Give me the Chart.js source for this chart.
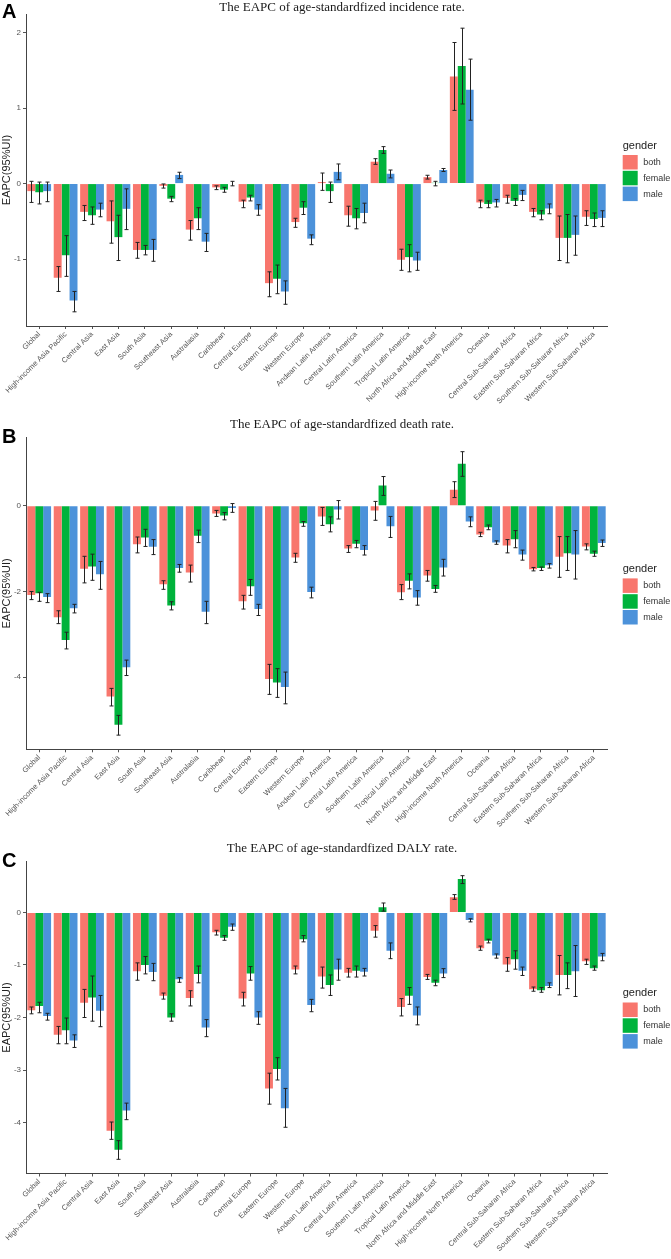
<!DOCTYPE html>
<html><head><meta charset="utf-8">
<script src="https://cdn.jsdelivr.net/npm/chart.js@4.4.1/dist/chart.umd.min.js"></script>
<style>
html,body{margin:0;padding:0;background:#fff;}
body{width:671px;height:1259px;position:relative;overflow:hidden;}
canvas{position:absolute;left:0;}
</style></head><body>
<canvas id="cA" width="671" height="415" style="top:0px;width:671px;height:415px"></canvas>
<canvas id="cB" width="671" height="420" style="top:415px;width:671px;height:420px"></canvas>
<canvas id="cC" width="671" height="424" style="top:835px;width:671px;height:424px"></canvas>
<script>
const categories = ["Global","High-income Asia Pacific","Central Asia","East Asia","South Asia","Southeast Asia","Australasia","Caribbean","Central Europe","Eastern Europe","Western Europe","Andean Latin America","Central Latin America","Southern Latin America","Tropical Latin America","North Africa and Middle East","High-income North America","Oceania","Central Sub-Saharan Africa","Eastern Sub-Saharan Africa","Southern Sub-Saharan Africa","Western Sub-Saharan Africa"];
const genders = ["both","female","male"];
const genderColors = ["#F8766D","#00B33C","#4C92DA"];

// Panel A: incidence
const incBoth   = [-0.10,-1.25,-0.375,-0.50,-0.88,-0.03,-0.61,-0.05,-0.24,-1.32,-0.51,0.02,-0.42,0.29,-1.01,0.085,1.42,-0.25,-0.19,-0.375,-0.72,-0.44];
const incBothHi = [0.03,-1.10,-0.29,-0.23,-0.78,-0.005,-0.49,-0.03,-0.22,-1.17,-0.46,0.14,-0.30,0.33,-0.87,0.11,1.87,-0.22,-0.155,-0.33,-0.43,-0.36];
const incBothLo = [-0.25,-1.43,-0.49,-0.79,-0.99,-0.06,-0.75,-0.08,-0.32,-1.50,-0.58,-0.09,-0.565,0.255,-1.15,0.06,0.97,-0.32,-0.26,-0.44,-1.02,-0.555];
const incFemale   = [-0.115,-0.95,-0.42,-0.71,-0.88,-0.20,-0.46,-0.08,-0.185,-1.26,-0.32,-0.10,-0.46,0.445,-0.975,0.01,1.56,-0.27,-0.23,-0.41,-0.72,-0.47];
const incFemaleHi = [0.02,-0.69,-0.31,-0.42,-0.82,-0.17,-0.32,-0.05,-0.155,-1.08,-0.24,0.02,-0.33,0.49,-0.81,0.03,2.06,-0.23,-0.20,-0.36,-0.41,-0.39];
const incFemaleLo = [-0.27,-1.23,-0.54,-1.02,-0.945,-0.24,-0.61,-0.115,-0.23,-1.46,-0.41,-0.25,-0.60,0.40,-1.17,-0.03,1.055,-0.32,-0.29,-0.48,-1.05,-0.57];
const incMale   = [-0.10,-1.55,-0.345,-0.335,-0.88,0.115,-0.77,0.0,-0.345,-1.43,-0.73,0.155,-0.39,0.13,-1.02,0.18,1.245,-0.25,-0.15,-0.33,-0.68,-0.455];
const incMaleHi = [0.02,-1.43,-0.26,-0.07,-0.74,0.15,-0.66,0.03,-0.28,-1.29,-0.68,0.26,-0.26,0.18,-0.91,0.20,1.65,-0.21,-0.09,-0.27,-0.43,-0.36];
const incMaleLo = [-0.24,-1.70,-0.44,-0.61,-1.03,0.066,-0.90,-0.03,-0.42,-1.60,-0.81,0.05,-0.52,0.075,-1.15,0.16,0.84,-0.31,-0.225,-0.40,-0.95,-0.57];

// Panel B: death
const deaBoth   = [-2.08,-2.60,-1.47,-4.45,-0.90,-1.83,-1.56,-0.18,-2.23,-4.04,-1.21,-0.25,-1.00,-0.11,-2.02,-1.63,0.37,-0.67,-0.93,-1.48,-1.19,-0.95];
const deaBothHi = [-2.00,-2.45,-1.18,-4.26,-0.73,-1.75,-1.385,-0.11,-2.09,-3.70,-1.11,-0.04,-0.93,0.10,-1.84,-1.51,0.56,-0.62,-0.79,-1.44,-0.72,-0.89];
const deaBothLo = [-2.19,-2.75,-1.80,-4.67,-1.10,-1.95,-1.78,-0.25,-2.41,-4.40,-1.32,-0.46,-1.09,-0.34,-2.19,-1.76,0.19,-0.72,-1.10,-1.52,-1.67,-1.03];
const deaFemale   = [-2.04,-3.13,-1.42,-5.11,-0.74,-2.33,-0.70,-0.23,-1.88,-4.12,-0.41,-0.43,-0.89,0.47,-1.75,-1.94,0.98,-0.50,-0.78,-1.455,-1.11,-1.12];
const deaFemaleHi = [-2.02,-2.95,-1.13,-4.89,-0.55,-2.24,-0.57,-0.16,-1.72,-3.80,-0.37,-0.26,-0.81,0.68,-1.59,-1.86,1.26,-0.45,-0.58,-1.43,-0.72,-1.06];
const deaFemaleLo = [-2.23,-3.34,-1.74,-5.35,-0.95,-2.43,-0.86,-0.33,-2.09,-4.47,-0.48,-0.61,-0.98,0.24,-1.94,-2.02,0.685,-0.56,-0.98,-1.51,-1.51,-1.18];
const deaMale   = [-2.13,-2.39,-1.60,-3.77,-0.96,-1.45,-2.475,-0.055,-2.41,-4.23,-2.01,-0.09,-1.035,-0.48,-2.14,-1.44,-0.37,-0.86,-1.14,-1.39,-1.14,-0.87];
const deaMaleHi = [-2.05,-2.30,-1.30,-3.60,-0.79,-1.37,-2.23,0.05,-2.30,-3.88,-1.90,0.12,-0.93,-0.25,-1.98,-1.25,-0.26,-0.82,-1.035,-1.35,-0.58,-0.80];
const deaMaleLo = [-2.26,-2.50,-1.95,-3.96,-1.14,-1.55,-2.75,-0.155,-2.56,-4.62,-2.15,-0.31,-1.15,-0.74,-2.32,-1.64,-0.49,-0.90,-1.27,-1.455,-1.71,-0.95];

// Panel C: DALY
const dalBoth   = [-1.86,-2.33,-1.72,-4.155,-1.12,-1.585,-1.63,-0.375,-1.64,-3.35,-1.085,-1.22,-1.15,-0.35,-1.80,-1.23,0.29,-0.68,-0.99,-1.46,-1.19,-0.93];
const dalBothHi = [-1.80,-2.17,-1.465,-3.99,-0.96,-1.535,-1.49,-0.34,-1.52,-3.06,-1.02,-1.04,-1.065,-0.25,-1.64,-1.18,0.34,-0.64,-0.86,-1.42,-0.82,-0.89];
const dalBothLo = [-1.93,-2.50,-2.00,-4.32,-1.29,-1.65,-1.78,-0.43,-1.78,-3.65,-1.17,-1.44,-1.23,-0.47,-1.97,-1.275,0.25,-0.72,-1.12,-1.50,-1.57,-0.99];
const dalFemale   = [-1.78,-2.245,-1.62,-4.52,-1.00,-2.00,-1.17,-0.48,-1.16,-2.98,-0.51,-1.38,-1.11,0.10,-1.585,-1.34,0.635,-0.54,-0.89,-1.48,-1.19,-1.06];
const dalFemaleHi = [-1.71,-2.01,-1.21,-4.345,-0.84,-1.93,-1.02,-0.44,-1.03,-2.765,-0.44,-1.19,-1.02,0.18,-1.43,-1.29,0.70,-0.51,-0.73,-1.43,-0.96,-1.02];
const dalFemaleLo = [-1.91,-2.50,-2.07,-4.70,-1.17,-2.07,-1.34,-0.53,-1.29,-3.19,-0.56,-1.58,-1.23,0.025,-1.75,-1.395,0.55,-0.58,-1.08,-1.52,-1.45,-1.10];
const dalMale   = [-1.97,-2.44,-1.87,-3.77,-1.135,-1.27,-2.19,-0.27,-2.00,-3.73,-1.76,-1.085,-1.13,-0.73,-1.96,-1.16,-0.145,-0.82,-1.11,-1.40,-1.12,-0.84];
const dalMaleHi = [-1.92,-2.33,-1.58,-3.63,-0.97,-1.24,-2.04,-0.22,-1.89,-3.35,-1.655,-0.89,-1.065,-0.58,-1.80,-1.07,-0.12,-0.79,-1.04,-1.34,-0.63,-0.78];
const dalMaleLo = [-2.05,-2.57,-2.175,-3.945,-1.30,-1.33,-2.365,-0.34,-2.13,-4.09,-1.89,-1.29,-1.21,-0.88,-2.14,-1.24,-0.18,-0.87,-1.20,-1.43,-1.60,-0.92];

const SANS = '"Liberation Sans", Arial, sans-serif';
const SERIF = '"Liberation Serif", "Times New Roman", serif';

const errorBars = {
  id: 'errorBars',
  afterDatasetsDraw(chart) {
    const ctx = chart.ctx, ys = chart.scales.y;
    ctx.save();
    ctx.strokeStyle = '#222'; ctx.lineWidth = 1;
    chart.data.datasets.forEach((ds, i) => {
      const meta = chart.getDatasetMeta(i);
      meta.data.forEach((bar, j) => {
        const x = Math.round(bar.x) + 0.5;
        const y1 = ys.getPixelForValue(ds.hi[j]);
        const y2 = ys.getPixelForValue(ds.lo[j]);
        ctx.beginPath();
        ctx.moveTo(x, y1); ctx.lineTo(x, y2);
        ctx.moveTo(x - 2, y1); ctx.lineTo(x + 2, y1);
        ctx.moveTo(x - 2, y2); ctx.lineTo(x + 2, y2);
        ctx.stroke();
      });
    });
    ctx.restore();
  }
};

const decor = {
  id: 'decor',
  afterDraw(chart) {
    const p = chart.options.plugins.decor;
    const ctx = chart.ctx;
    ctx.save();
    ctx.textBaseline = 'alphabetic';
    ctx.fillStyle = '#000'; ctx.textAlign = 'left';
    ctx.font = 'bold 20px ' + SANS;
    ctx.fillText(p.letter, 2, p.letterY);
    ctx.font = '13px ' + SERIF; ctx.textAlign = 'center'; ctx.fillStyle = '#1a1a1a';
    ctx.fillText(p.title, 342, p.titleY);
    const ca = chart.chartArea, mid = (ca.top + ca.bottom) / 2;
    ctx.textAlign = 'left'; ctx.fillStyle = '#222';
    ctx.font = '11px ' + SANS;
    ctx.fillText('gender', 622.7, mid - 21.5);
    chart.data.datasets.forEach((ds, i) => {
      const y = mid - 15 + i * 15.8;
      ctx.fillStyle = ds.backgroundColor;
      ctx.fillRect(622.7, y, 15, 14.5);
      ctx.fillStyle = '#333'; ctx.font = '9px ' + SANS;
      ctx.textBaseline = 'middle';
      ctx.fillText(ds.label, 643.3, y + 7.5);
      ctx.textBaseline = 'alphabetic';
    });
    ctx.restore();
  }
};

function makeChart(id, spec) {
  const canvas = document.getElementById(id);
  const H = canvas.height;
  let lo = Infinity, hi = -Infinity;
  spec.series.forEach(s => { s[1].forEach(v => hi = Math.max(hi, v)); s[2].forEach(v => lo = Math.min(lo, v)); });
  const pad = (hi - lo) * 0.05;
  new Chart(canvas, {
    type: 'bar',
    data: {
      labels: categories,
      datasets: spec.series.map((s, i) => ({
        label: genders[i], data: s[0], hi: s[1], lo: s[2],
        backgroundColor: genderColors[i], borderWidth: 0,
        categoryPercentage: 0.9, barPercentage: 1.0
      }))
    },
    options: {
      responsive: false, animation: false,
      layout: { padding: { left: 0, right: 64, top: spec.areaTop, bottom: 0 } },
      plugins: { legend: { display: false }, tooltip: { enabled: false },
        decor: { letter: spec.letter, letterY: spec.letterY, title: spec.title, titleY: spec.titleY } },
      scales: {
        x: {
          offset: true,
          grid: { display: true, drawOnChartArea: false, tickLength: 3, color: '#555', offset: false },
          border: { display: true, color: '#444', width: 1 },
          ticks: { autoSkip: false, maxRotation: 45, minRotation: 45, padding: 1,
            color: '#555', font: { family: SANS, size: 7.5 } },
          afterFit(scale) { scale.height = H - spec.areaBottom; }
        },
        y: {
          min: lo - pad, max: hi + pad,
          grid: { display: true, drawOnChartArea: false, tickLength: 3, color: '#555' },
          border: { display: true, color: '#444', width: 1 },
          ticks: { stepSize: spec.step, includeBounds: false, padding: 2, color: '#555',
            font: { family: SANS, size: 8 } },
          title: { display: true, text: 'EAPC(95%UI)', color: '#222', padding: { top: 0, bottom: 0 },
            font: { family: SANS, size: 11 } },
          afterFit(scale) { scale.width = 26; }
        }
      }
    },
    plugins: [errorBars, decor]
  });
}

makeChart('cA', { letter: 'A', letterY: 18, title: 'The EAPC of age-standardfized incidence rate.', titleY: 11,
  areaTop: 14, areaBottom: 326, step: 1,
  series: [[incBoth, incBothHi, incBothLo], [incFemale, incFemaleHi, incFemaleLo], [incMale, incMaleHi, incMaleLo]] });
makeChart('cB', { letter: 'B', letterY: 28, title: 'The EAPC of age-standardfized death rate.', titleY: 13.3,
  areaTop: 22.5, areaBottom: 334.3, step: 2,
  series: [[deaBoth, deaBothHi, deaBothLo], [deaFemale, deaFemaleHi, deaFemaleLo], [deaMale, deaMaleHi, deaMaleLo]] });
makeChart('cC', { letter: 'C', letterY: 32.3, title: 'The EAPC of age-standardfized DALY rate.', titleY: 17,
  areaTop: 26.5, areaBottom: 338.5, step: 1,
  series: [[dalBoth, dalBothHi, dalBothLo], [dalFemale, dalFemaleHi, dalFemaleLo], [dalMale, dalMaleHi, dalMaleLo]] });
</script>
</body></html>
